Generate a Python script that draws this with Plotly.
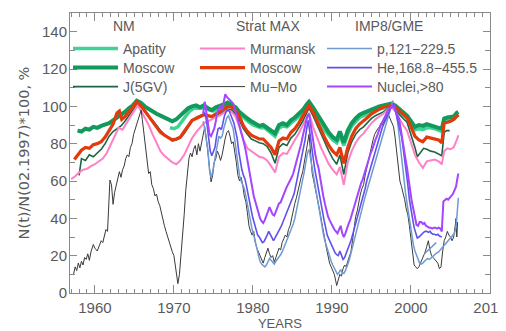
import plotly.graph_objects as go

# ---------------- data (year, value) ----------------
apatity = [(1969.5, 88.5), (1970.0, 88), (1970.5, 89), (1971.0, 92), (1971.5, 95), (1972.0, 97.5), (1972.5, 99),
           (1973.0, 99), (1973.5, 99), (1974.0, 99.5), (1974.5, 98), (1975.0, 97.5), (1975.5, 98.5), (1976.0, 99.5),
           (1976.5, 100.5), (1977.0, 100.5), (1977.5, 99.5), (1978.0, 97), (1978.5, 95), (1979.0, 93), (1979.5, 91.5),
           (1980.0, 90), (1980.5, 89), (1981.0, 88.5), (1981.5, 88.5), (1982.0, 86.5), (1982.5, 85), (1982.8, 84),
           (1983.3, 88.5), (1983.8, 89.5), (1984.3, 89), (1984.8, 91), (1985.3, 92.5), (1985.8, 94.5), (1986.3, 96.5),
           (1986.8, 99.5), (1987.1, 101), (1987.6, 98), (1988.1, 94.5), (1988.6, 90.5), (1989.1, 87), (1989.6, 84.5),
           (1990.1, 82), (1990.6, 80.5), (1991.0, 84.5), (1991.5, 79), (1992.0, 85), (1992.5, 89.5), (1993.0, 92),
           (1993.5, 94), (1994.0, 95), (1994.5, 96), (1995.0, 97), (1995.5, 98), (1996.0, 98.5), (1996.5, 99),
           (1997.0, 99.5), (1997.5, 100), (1998.0, 99), (1998.5, 97), (1999.0, 95), (1999.5, 93.5), (2000.0, 90.5),
           (2000.5, 87.5), (2001.0, 88), (2001.5, 87.5), (2002.0, 88.5), (2002.5, 88.5), (2003.0, 88), (2003.5, 87),
           (2003.9, 86.5), (2004.2, 92), (2004.6, 92.5), (2005.0, 92.5), (2005.4, 93), (2005.8, 95), (2006.0, 95.5)]

moscow_nm = [(1957.8, 87), (1958.3, 86.5), (1958.8, 88), (1959.3, 87.5), (1959.8, 89), (1960.3, 88.5), (1960.8, 89.5),
             (1961.3, 90), (1961.8, 91), (1962.3, 92.5), (1962.8, 94), (1963.3, 95), (1963.8, 97), (1964.3, 99),
             (1964.8, 100.5), (1965.3, 103), (1965.8, 102), (1966.3, 100), (1966.8, 98.5), (1967.3, 97), (1967.8, 96),
             (1968.3, 95), (1968.8, 94), (1969.3, 93), (1969.8, 92), (1970.3, 93), (1970.8, 95), (1971.3, 97),
             (1971.8, 99), (1972.3, 100), (1972.8, 100.5), (1973.3, 99.5), (1973.8, 100.5), (1974.3, 99), (1974.8, 98),
             (1975.3, 99.5), (1975.8, 100), (1976.3, 101), (1976.8, 102), (1977.3, 101), (1977.8, 99.5), (1978.3, 97),
             (1978.8, 95), (1979.3, 93.5), (1979.8, 92), (1980.3, 91), (1980.8, 89.5), (1981.3, 90), (1981.8, 88.5),
             (1982.3, 87), (1982.8, 85.5), (1983.3, 90), (1983.8, 91), (1984.3, 90), (1984.8, 92.5), (1985.3, 94),
             (1985.8, 96), (1986.3, 98), (1986.8, 101), (1987.1, 102.5), (1987.6, 99.5), (1988.1, 96), (1988.6, 92),
             (1989.1, 88.5), (1989.6, 86), (1990.1, 83.5), (1990.6, 82), (1991.0, 86.5), (1991.5, 80.5), (1992.0, 87),
             (1992.5, 91), (1993.0, 93.5), (1993.5, 95.5), (1994.0, 96.5), (1994.5, 97.5), (1995.0, 98.5),
             (1995.5, 99.5), (1996.0, 100), (1996.5, 100.5), (1997.0, 101), (1997.5, 101.5), (1998.0, 100.5),
             (1998.5, 98.5), (1999.0, 96.5), (1999.5, 95), (2000.0, 92), (2000.5, 89), (2001.0, 90), (2001.5, 89.5),
             (2002.0, 90.5), (2002.5, 90), (2003.0, 89.5), (2003.5, 88.5), (2003.9, 88), (2004.2, 93.5), (2004.6, 94),
             (2005.0, 94), (2005.4, 94.5), (2005.8, 96.5), (2006.0, 97)]

j5gv = [(1958.0, 63), (1958.3, 72), (1958.8, 71), (1959.3, 74), (1959.8, 73), (1960.3, 75), (1960.8, 77), (1961.3, 80),
        (1961.8, 84), (1962.3, 86.5), (1962.8, 88), (1963.3, 89.5), (1963.8, 92), (1964.3, 95), (1964.8, 98),
        (1965.3, 101), (1965.8, 100), (1966.3, 97), (1966.8, 94.5), (1967.3, 92.5), (1967.8, 89.5), (1968.3, 87),
        (1968.8, 85), (1969.3, 83), (1969.8, 81.5), (1970.3, 82), (1970.8, 83), (1971.3, 85.5), (1971.8, 88.5),
        (1972.3, 92), (1972.8, 94), (1973.3, 95), (1973.8, 96), (1974.3, 95), (1974.8, 94), (1975.3, 95.5),
        (1975.8, 96), (1976.3, 97), (1976.8, 98.5), (1977.3, 98), (1977.8, 96), (1978.3, 92.5), (1978.8, 88),
        (1979.3, 85), (1979.8, 82.5), (1980.3, 81.5), (1980.8, 80.5), (1981.3, 80), (1981.8, 78.5), (1982.3, 75),
        (1982.8, 69.5), (1983.3, 78), (1983.8, 80), (1984.3, 79), (1984.8, 83), (1985.3, 85), (1985.8, 88.5),
        (1986.3, 92), (1986.8, 96.5), (1987.1, 99), (1987.6, 95), (1988.1, 90), (1988.6, 85), (1989.1, 80),
        (1989.6, 76), (1990.1, 72), (1990.6, 69), (1991.0, 74), (1991.5, 63.5), (1992.0, 75), (1992.5, 81),
        (1993.0, 85), (1993.5, 87.5), (1994.0, 89), (1994.5, 91.5), (1995.0, 93.5), (1995.5, 95), (1996.0, 96),
        (1996.5, 97), (1997.0, 98.5), (1997.5, 99.5), (1998.0, 98), (1998.5, 95.5), (1999.0, 93.5), (1999.5, 91.5),
        (2000.0, 85), (2000.5, 78), (2000.8, 73), (2001.2, 75), (2001.6, 77.5), (2002.0, 77), (2002.5, 76),
        (2003.0, 75.5), (2003.5, 74.5), (2003.9, 73.5), (2004.2, 86), (2004.5, 87), (2004.9, 87)]

murmansk = [(1957.0, 61), (1957.5, 62.5), (1958.0, 64.5), (1958.5, 66), (1959.0, 66.5), (1959.5, 68), (1960.0, 69),
            (1960.5, 70.5), (1961.0, 72), (1961.5, 75), (1962.0, 80), (1962.5, 84), (1963.0, 88.5), (1963.5, 87.5),
            (1964.0, 91), (1964.5, 94.5), (1965.0, 97.5), (1965.4, 100.5), (1965.8, 98), (1966.3, 94), (1966.8, 90),
            (1967.3, 85), (1967.8, 80), (1968.3, 76), (1968.8, 73.5), (1969.3, 71.5), (1969.8, 70), (1970.3, 69),
            (1970.8, 71), (1971.3, 74), (1971.8, 79), (1972.3, 83), (1972.8, 86), (1973.3, 88.5), (1973.8, 91),
            (1974.3, 92), (1974.8, 93), (1975.3, 94.5), (1975.8, 95), (1976.3, 96.5), (1976.8, 98), (1977.3, 97),
            (1977.8, 94.5), (1978.3, 89), (1978.8, 82), (1979.3, 77.5), (1979.8, 76), (1980.3, 74.5), (1980.8, 73),
            (1981.3, 72.5), (1981.8, 71), (1982.3, 68), (1982.8, 64.5), (1983.3, 73), (1983.8, 75), (1984.3, 74.5),
            (1984.8, 78.5), (1985.3, 82), (1985.8, 85.5), (1986.3, 89.5), (1986.8, 94), (1987.1, 96.5), (1987.6, 89),
            (1988.1, 83), (1988.6, 78), (1989.1, 73.5), (1989.6, 69), (1990.1, 66), (1990.6, 63.5), (1991.0, 67.5),
            (1991.5, 58), (1992.0, 70), (1992.5, 76), (1993.0, 80.5), (1993.5, 83.5), (1994.0, 85.5), (1994.5, 88.5),
            (1995.0, 91), (1995.5, 93), (1996.0, 94.5), (1996.5, 96), (1997.0, 98), (1997.5, 99.5), (1998.0, 97.5),
            (1998.5, 93.5), (1999.0, 90), (1999.5, 87), (2000.0, 80), (2000.5, 74), (2001.0, 70), (2001.5, 67),
            (2002.0, 70.5), (2002.5, 71), (2003.0, 71.5), (2003.5, 70.5), (2003.9, 69), (2004.2, 76), (2004.6, 77.5),
            (2005.0, 77), (2005.4, 78), (2005.8, 82), (2006.0, 84.5)]

moscow_strat = [(1957.4, 71.5), (1957.8, 74), (1958.3, 76.5), (1958.8, 78), (1959.3, 77.5), (1959.8, 79.5),
                (1960.3, 80), (1960.8, 81), (1961.3, 83.5), (1961.8, 87), (1962.3, 90.5), (1962.8, 96.5),
                (1963.1, 97.5), (1963.4, 93), (1963.8, 94.5), (1964.3, 97), (1964.8, 99.5), (1965.3, 102.5),
                (1965.8, 100.5), (1966.3, 97.5), (1966.8, 94.5), (1967.3, 91.5), (1967.8, 88.5), (1968.3, 86),
                (1968.8, 84.5), (1969.3, 83), (1969.8, 82), (1970.3, 82.5), (1970.8, 83.5), (1971.3, 86.5),
                (1971.8, 89.5), (1972.3, 92.5), (1972.8, 93.5), (1973.3, 94.5), (1973.8, 95.5), (1974.3, 95),
                (1974.8, 94.5), (1975.3, 96), (1975.8, 97), (1976.3, 98.5), (1976.8, 100), (1977.3, 99.5),
                (1977.8, 98), (1978.3, 94.5), (1978.8, 89.5), (1979.3, 86.5), (1979.8, 84.5), (1980.3, 83.5),
                (1980.8, 82.5), (1981.3, 82.5), (1981.8, 80.5), (1982.3, 78), (1982.8, 74), (1983.3, 81.5),
                (1983.8, 83), (1984.3, 82.5), (1984.8, 86), (1985.3, 88), (1985.8, 91), (1986.3, 94.5), (1986.8, 98.5),
                (1987.1, 100.5), (1987.6, 97), (1988.1, 92), (1988.6, 87.5), (1989.1, 83), (1989.6, 79), (1990.1, 76),
                (1990.6, 74), (1991.0, 78), (1991.5, 69.5), (1992.0, 78), (1992.5, 84), (1993.0, 88), (1993.5, 90.5),
                (1994.0, 92), (1994.5, 94), (1995.0, 96), (1995.5, 97.5), (1996.0, 98.5), (1996.5, 99.5),
                (1997.0, 100), (1997.5, 100.5), (1998.0, 99.5), (1998.5, 97.5), (1999.0, 95.5), (1999.5, 94),
                (2000.0, 89), (2000.5, 84), (2001.0, 82), (2001.5, 81), (2002.0, 83.5), (2002.5, 83), (2003.0, 82.5),
                (2003.5, 82), (2003.9, 80.5), (2004.2, 91), (2004.6, 91.5), (2005.0, 92), (2005.4, 93), (2005.8, 95),
                (2006.0, 95.5)]

mu_mo = [(1957.3, 10), (1957.5, 14), (1957.7, 12), (1957.9, 16), (1958.1, 13.5), (1958.3, 17), (1958.5, 15),
         (1958.7, 19), (1958.9, 18), (1959.1, 21), (1959.3, 17.5), (1959.5, 22), (1959.8, 26), (1960.0, 24),
         (1960.3, 22.5), (1960.5, 25), (1960.8, 28), (1961.0, 27), (1961.2, 31), (1961.4, 34), (1961.6, 33),
         (1961.75, 48), (1961.9, 60.5), (1962.1, 58), (1962.3, 47.5), (1962.5, 54), (1962.7, 58), (1962.9, 60.5),
         (1963.1, 65), (1963.3, 62), (1963.5, 66), (1963.7, 68), (1963.9, 72), (1964.1, 74), (1964.3, 73),
         (1964.5, 78), (1964.7, 80), (1964.9, 85), (1965.1, 88), (1965.3, 90), (1965.5, 94), (1965.7, 97),
         (1965.85, 98), (1966.0, 93), (1966.2, 86), (1966.4, 79), (1966.6, 70), (1966.8, 64), (1967.0, 65),
         (1967.2, 58), (1967.4, 56), (1967.6, 52), (1967.8, 53), (1968.0, 49), (1968.2, 47), (1968.4, 43),
         (1968.6, 39), (1968.8, 36), (1969.0, 33), (1969.2, 30), (1969.4, 27), (1969.6, 24), (1969.8, 22),
         (1970.0, 20), (1970.2, 14), (1970.4, 6), (1970.5, 5), (1970.7, 10), (1970.9, 20), (1971.1, 30),
         (1971.3, 42), (1971.5, 55), (1971.7, 66), (1971.9, 72), (1972.1, 75), (1972.3, 73), (1972.5, 77),
         (1972.7, 79), (1972.9, 74), (1973.1, 80), (1973.3, 76), (1973.5, 81), (1973.7, 86), (1973.9, 89),
         (1974.1, 83), (1974.3, 75), (1974.5, 64), (1974.7, 59.5), (1974.9, 63), (1975.1, 70), (1975.3, 72),
         (1975.5, 76), (1975.7, 74), (1975.9, 71), (1976.1, 74), (1976.3, 79), (1976.5, 83), (1976.7, 86),
         (1976.9, 87), (1977.1, 84), (1977.3, 80), (1977.5, 81), (1977.7, 76), (1977.9, 70), (1978.1, 63),
         (1978.3, 60), (1978.5, 62), (1978.7, 58), (1978.9, 52), (1979.1, 49), (1979.3, 43), (1979.5, 36),
         (1979.7, 33), (1979.9, 31), (1980.1, 33), (1980.3, 27), (1980.5, 24), (1980.7, 22), (1980.9, 19),
         (1981.1, 17), (1981.3, 16), (1981.5, 19), (1981.7, 22), (1981.9, 24), (1982.1, 21), (1982.3, 19),
         (1982.5, 20), (1982.7, 16.5), (1982.9, 19), (1983.1, 22), (1983.3, 24), (1983.5, 23), (1983.7, 27),
         (1983.9, 29), (1984.1, 31), (1984.3, 30), (1984.5, 34), (1984.7, 36), (1984.9, 40), (1985.1, 45),
         (1985.3, 48), (1985.5, 51), (1985.7, 55), (1985.9, 58), (1986.1, 62), (1986.3, 65), (1986.5, 70),
         (1986.7, 76), (1986.9, 82), (1987.1, 85), (1987.3, 75), (1987.5, 64), (1987.7, 60), (1987.9, 56),
         (1988.1, 52), (1988.3, 47), (1988.5, 43), (1988.7, 38), (1988.9, 34), (1989.1, 29), (1989.3, 24),
         (1989.5, 19), (1989.7, 16), (1989.9, 14), (1990.1, 12), (1990.3, 10), (1990.5, 6), (1990.6, 4),
         (1990.8, 7), (1991.0, 10), (1991.2, 9), (1991.4, 13), (1991.6, 15), (1991.8, 14), (1992.0, 17),
         (1992.2, 20), (1992.4, 22), (1992.6, 28), (1992.8, 35), (1993.0, 41), (1993.2, 44), (1993.4, 49),
         (1993.6, 53), (1993.8, 56), (1994.0, 58), (1994.2, 63), (1994.4, 67), (1994.6, 71), (1994.8, 75),
         (1995.0, 78), (1995.2, 82), (1995.4, 85), (1995.6, 87), (1995.8, 88), (1996.0, 89), (1996.2, 91),
         (1996.4, 90), (1996.6, 92), (1996.8, 94), (1997.0, 96), (1997.2, 95), (1997.4, 93), (1997.6, 91),
         (1997.8, 89), (1998.0, 83), (1998.2, 76), (1998.4, 68), (1998.6, 60), (1998.8, 57), (1999.0, 54),
         (1999.2, 50), (1999.4, 45), (1999.6, 42), (1999.8, 36), (2000.0, 29), (2000.2, 20), (2000.4, 15),
         (2000.6, 14), (2000.8, 13), (2001.0, 14), (2001.2, 16), (2001.4, 17), (2001.6, 19), (2001.8, 22),
         (2002.0, 25), (2002.2, 28), (2002.4, 23), (2002.6, 20), (2002.8, 19), (2003.0, 18), (2003.2, 17),
         (2003.4, 16), (2003.6, 13), (2003.8, 14), (2004.0, 22), (2004.2, 28), (2004.4, 30), (2004.6, 33),
         (2004.8, 31), (2005.0, 30), (2005.2, 28), (2005.4, 30), (2005.6, 36), (2005.7, 40), (2005.8, 30),
         (2005.9, 38)]

protons = [(1973.7, 92), (1973.9, 88), (1974.1, 82), (1974.3, 77), (1974.5, 66), (1974.7, 62), (1974.9, 65),
           (1975.1, 70), (1975.3, 75), (1975.5, 81), (1975.7, 84), (1975.9, 83), (1976.1, 84), (1976.3, 88),
           (1976.5, 91), (1976.7, 94), (1976.9, 95), (1977.1, 93), (1977.3, 90), (1977.5, 88), (1977.7, 82),
           (1977.9, 76), (1978.1, 69), (1978.3, 63), (1978.5, 60), (1978.7, 58), (1978.9, 56), (1979.1, 52),
           (1979.3, 47), (1979.5, 42), (1979.7, 38), (1979.9, 34), (1980.1, 31), (1980.3, 28), (1980.5, 24),
           (1980.7, 20), (1980.9, 17), (1981.1, 15.5), (1981.3, 14.5), (1981.5, 14), (1981.7, 15), (1981.9, 17),
           (1982.1, 18.5), (1982.3, 17.5), (1982.5, 16.5), (1982.7, 15.5), (1982.9, 17), (1983.1, 18), (1983.3, 19),
           (1983.5, 20.5), (1983.7, 22), (1983.9, 24), (1984.1, 26), (1984.3, 28), (1984.5, 30), (1984.7, 32),
           (1984.9, 34.5), (1985.1, 37), (1985.3, 40), (1985.5, 44), (1985.7, 48), (1985.9, 53), (1986.1, 57),
           (1986.3, 61), (1986.5, 65), (1986.7, 70), (1986.9, 75), (1987.1, 77), (1987.3, 72), (1987.5, 66),
           (1987.7, 60), (1987.9, 55), (1988.1, 50), (1988.3, 46), (1988.5, 41), (1988.7, 36), (1988.9, 32),
           (1989.1, 28), (1989.3, 25), (1989.5, 22), (1989.7, 19.5), (1989.9, 17), (1990.1, 15), (1990.3, 13),
           (1990.5, 11.5), (1990.7, 10), (1990.9, 11), (1991.1, 12.5), (1991.3, 11), (1991.5, 10.5), (1991.7, 12),
           (1991.9, 14), (1992.1, 16.5), (1992.3, 19.5), (1992.5, 23), (1992.7, 26.5), (1992.9, 30), (1993.1, 34),
           (1993.3, 37), (1993.5, 40), (1993.7, 43), (1993.9, 46.5), (1994.1, 50), (1994.3, 53), (1994.5, 56),
           (1994.7, 59), (1994.9, 62), (1995.1, 65), (1995.3, 68), (1995.5, 71), (1995.7, 73), (1995.9, 76),
           (1996.1, 79), (1996.3, 82), (1996.5, 85), (1996.7, 88), (1996.9, 91), (1997.1, 95), (1997.3, 98),
           (1997.5, 101), (1997.7, 103), (1997.9, 100), (1998.1, 97), (1998.3, 92), (1998.5, 84), (1998.7, 76),
           (1998.9, 68), (1999.1, 61), (1999.3, 54), (1999.5, 48), (1999.7, 42), (1999.9, 36), (2000.1, 31),
           (2000.3, 26), (2000.5, 22.5), (2000.7, 20.5), (2000.9, 18), (2001.1, 16), (2001.3, 15.5), (2001.5, 16),
           (2001.7, 17), (2001.9, 18), (2002.1, 18.5), (2002.3, 18), (2002.5, 18.5), (2002.7, 19.5), (2002.9, 20),
           (2003.1, 21), (2003.3, 21.5), (2003.5, 22), (2003.7, 23), (2003.9, 24), (2004.1, 25), (2004.3, 25.5),
           (2004.5, 26.5), (2004.7, 27.5), (2004.9, 28.5), (2005.1, 30), (2005.3, 31), (2005.5, 32), (2005.7, 35),
           (2005.9, 46), (2006.0, 51)]

protons_extra = [(2001.7, 21), (2002.1, 22.5), (2002.5, 24), (2002.9, 25.5), (2003.2, 27)]

helium = [(1973.8, 97), (1974.0, 95), (1974.2, 90), (1974.4, 82), (1974.6, 76), (1974.8, 73.5), (1975.0, 76),
          (1975.2, 78), (1975.4, 84), (1975.6, 88), (1975.8, 88.5), (1976.0, 87.5), (1976.2, 91), (1976.4, 95),
          (1976.6, 97), (1976.8, 98), (1977.0, 97.5), (1977.2, 95.5), (1977.4, 94), (1977.6, 91), (1977.8, 87),
          (1978.0, 83), (1978.2, 76), (1978.4, 70), (1978.6, 66), (1978.8, 63), (1979.0, 61), (1979.2, 57),
          (1979.4, 52), (1979.6, 48), (1979.8, 44), (1980.0, 40), (1980.2, 37), (1980.4, 33), (1980.6, 31),
          (1980.8, 30), (1981.0, 28.5), (1981.2, 27), (1981.4, 27.5), (1981.6, 29), (1981.8, 31), (1982.0, 33),
          (1982.2, 31), (1982.4, 29.5), (1982.6, 28), (1982.8, 29.5), (1983.0, 31), (1983.2, 32.5), (1983.4, 34),
          (1983.6, 36), (1983.8, 38), (1984.0, 40), (1984.2, 42), (1984.4, 44), (1984.6, 46), (1984.8, 48),
          (1985.0, 50), (1985.2, 53), (1985.4, 57), (1985.6, 61), (1985.8, 65), (1986.0, 69), (1986.2, 73),
          (1986.4, 78), (1986.6, 82), (1986.8, 88), (1987.0, 92.5), (1987.2, 86), (1987.4, 78), (1987.6, 73),
          (1987.8, 67), (1988.0, 62), (1988.2, 58), (1988.4, 54), (1988.6, 48), (1988.8, 43), (1989.0, 39),
          (1989.2, 35), (1989.4, 31), (1989.6, 29), (1989.8, 27), (1990.0, 25), (1990.2, 23), (1990.4, 21.5),
          (1990.6, 20.5), (1990.8, 20), (1991.0, 22.5), (1991.2, 20), (1991.4, 18), (1991.6, 19), (1991.8, 21),
          (1992.0, 23), (1992.2, 26), (1992.4, 28), (1992.6, 31), (1992.8, 34), (1993.0, 37), (1993.2, 40),
          (1993.4, 44), (1993.6, 47), (1993.8, 50), (1994.0, 53), (1994.2, 56), (1994.4, 60), (1994.6, 63),
          (1994.8, 66), (1995.0, 69), (1995.2, 72), (1995.4, 75), (1995.6, 78), (1995.8, 80), (1996.0, 83),
          (1996.2, 86), (1996.4, 89), (1996.6, 91), (1996.8, 93), (1997.0, 95.5), (1997.2, 97.5), (1997.4, 99),
          (1997.6, 100.5), (1997.8, 101.5), (1998.0, 98), (1998.2, 95), (1998.4, 92), (1998.6, 89), (1998.8, 84),
          (1999.0, 78), (1999.2, 72), (1999.4, 65), (1999.6, 58), (1999.8, 50), (2000.0, 44), (2000.2, 40),
          (2000.4, 35), (2000.6, 32), (2000.8, 29.5), (2001.0, 30), (2001.2, 31), (2001.4, 32), (2001.6, 32.5),
          (2001.8, 33), (2002.0, 33), (2002.2, 32.5), (2002.4, 33), (2002.6, 32), (2002.8, 31.5), (2003.0, 31.5),
          (2003.2, 31), (2003.4, 31.5), (2003.6, 30.5), (2003.9, 30)]

nuclei = [(1973.7, 96), (1973.9, 102.5), (1974.1, 97), (1974.3, 91), (1974.5, 85), (1974.7, 84), (1974.9, 86),
          (1975.1, 88), (1975.3, 92), (1975.5, 97), (1975.7, 99), (1975.9, 100), (1976.1, 98), (1976.3, 103),
          (1976.5, 106.5), (1976.7, 105), (1976.9, 104), (1977.1, 103), (1977.3, 102), (1977.5, 101.5), (1977.7, 99),
          (1977.9, 96), (1978.1, 92), (1978.3, 89), (1978.5, 86), (1978.7, 83), (1978.9, 80), (1979.1, 76),
          (1979.3, 71), (1979.5, 66), (1979.7, 61), (1979.9, 56), (1980.1, 52), (1980.3, 49), (1980.5, 46),
          (1980.7, 43), (1980.9, 40), (1981.1, 38.5), (1981.3, 37.5), (1981.5, 39), (1981.7, 41), (1981.9, 44),
          (1982.1, 46), (1982.3, 44), (1982.5, 42), (1982.7, 41.5), (1982.9, 44), (1983.1, 46.5), (1983.3, 48),
          (1983.5, 48.5), (1983.7, 51), (1983.9, 53), (1984.1, 55), (1984.3, 57), (1984.5, 58.5), (1984.7, 60),
          (1984.9, 62), (1985.1, 64), (1985.3, 67), (1985.5, 70), (1985.7, 74), (1985.9, 77), (1986.1, 80),
          (1986.3, 84), (1986.5, 88), (1986.7, 91), (1986.9, 95), (1987.1, 96), (1987.3, 90), (1987.5, 84),
          (1987.7, 79), (1987.9, 74), (1988.1, 70), (1988.3, 67), (1988.5, 62), (1988.7, 56), (1988.9, 52),
          (1989.1, 48), (1989.3, 44), (1989.5, 41), (1989.7, 39), (1989.9, 37), (1990.1, 35), (1990.3, 34),
          (1990.5, 33), (1990.7, 32), (1990.9, 34), (1991.1, 36), (1991.3, 32), (1991.5, 30), (1991.7, 32),
          (1991.9, 35), (1992.1, 37), (1992.3, 39), (1992.5, 42), (1992.7, 45), (1992.9, 48), (1993.1, 50),
          (1993.3, 53), (1993.5, 56), (1993.7, 59), (1993.9, 61), (1994.1, 64), (1994.3, 67), (1994.5, 70),
          (1994.7, 72), (1994.9, 75), (1995.1, 77), (1995.3, 80), (1995.5, 82), (1995.7, 84), (1995.9, 87),
          (1996.1, 89), (1996.3, 91), (1996.5, 92.5), (1996.7, 94), (1996.9, 96), (1997.1, 98), (1997.3, 99),
          (1997.5, 100), (1997.7, 100.5), (1997.9, 99), (1998.1, 97), (1998.3, 95), (1998.5, 93), (1998.7, 88),
          (1998.9, 82), (1999.1, 77), (1999.3, 72), (1999.5, 67), (1999.7, 61), (1999.9, 54), (2000.1, 49),
          (2000.3, 45), (2000.5, 40), (2000.7, 36.5), (2000.9, 36), (2001.1, 38), (2001.3, 38), (2001.5, 37),
          (2001.7, 37.5), (2001.9, 36), (2002.1, 35.5), (2002.3, 35), (2002.5, 35), (2002.7, 34.5), (2002.9, 35),
          (2003.1, 35), (2003.3, 34.5), (2003.5, 35), (2003.7, 34.5), (2003.9, 33), (2004.1, 49), (2004.3, 50),
          (2004.5, 50.5), (2004.7, 50), (2004.9, 51), (2005.1, 52), (2005.3, 53), (2005.5, 55), (2005.7, 57),
          (2005.9, 62), (2006.0, 64)]

x_ticks = [1960, 1970, 1980, 1990, 2000, 2010]
y_ticks = [0, 20, 40, 60, 80, 100, 120, 140]

# ------------------------------------------------------------------------------
FONT = "Liberation Sans"
TXT = "#5a5a5a"
AX = "#8a8a8a"

series = [
    # name, data, color, width, legend id
    ("Apatity", apatity, "#3fd496", 3.5, "legend"),
    ("Moscow", moscow_nm, "#129a5c", 4.0, "legend2"),
    ("J(5GV)", j5gv, "#1d6444", 1.6, "legend3"),
    ("Murmansk", murmansk, "#ff80c4", 2.0, "legend4"),
    ("Moscow", moscow_strat, "#e23a0a", 3.2, "legend5"),
    ("Mu\u2212Mo", mu_mo, "#3a3a3a", 1.0, "legend6"),
    ("p,121\u2212229.5", protons, "#6f9ad2", 1.5, "legend7"),
    ("He,168.8\u2212455.5", helium, "#6150ee", 1.6, "legend8"),
    ("Nuclei,>80", nuclei, "#a346ff", 2.0, "legend9"),
]

fig = go.Figure()
for name, data, color, width, lg in series:
    xs = [d[0] for d in data]
    ys = [d[1] for d in data]
    fig.add_trace(go.Scatter(x=xs, y=ys, mode="lines", name=name, legend=lg,
                             line=dict(color=color, width=width)))
    if name.startswith("p,"):
        fig.add_trace(go.Scatter(x=[d[0] for d in protons_extra], y=[d[1] for d in protons_extra],
                                 mode="lines", showlegend=False,
                                 line=dict(color=color, width=width)))

# target plot area in window pixels: left 70, right 490, top 13, bottom 293
# (the page body adds an 8 px offset, so figure margins are reduced by 8)
OFF = 8
L, R, T, B = 70, 490, 13, 293
W, H = R - L, B - T


def px(xp):
    return (xp - L) / W


def py(yp):
    return (B - yp) / H


col_x = [68, 195, 322]
row_y = [49, 68, 87]
legend_ids = ["legend", "legend2", "legend3", "legend4", "legend5", "legend6", "legend7", "legend8", "legend9"]
legend_layout = {}
for i, lid in enumerate(legend_ids):
    c, r = divmod(i, 3)
    legend_layout[lid] = dict(x=px(col_x[c]), y=py(row_y[r]), xanchor="left", yanchor="middle",
                              bgcolor="rgba(0,0,0,0)", borderwidth=0,
                              font=dict(family=FONT, size=14, color=TXT),
                              itemwidth=45, tracegroupgap=0)

headers = [("NM", 124), ("Strat MAX", 268), ("IMP8/GME", 389)]
annotations = [dict(text=t, x=px(hx), y=py(26), xref="paper", yref="paper", showarrow=False,
                    xanchor="center", yanchor="middle", font=dict(family=FONT, size=14, color=TXT))
               for t, hx in headers]

FW, FH = 506, 331
fig.update_layout(
    width=FW, height=FH,
    margin=dict(l=L - OFF, r=FW - (R - OFF), t=T - OFF, b=FH - (B - OFF), autoexpand=False),
    paper_bgcolor="white", plot_bgcolor="white",
    font=dict(family=FONT, size=15, color=TXT),
    showlegend=True,
    annotations=annotations,
    **legend_layout,
)

fig.update_xaxes(
    range=[1956.85, 2010], tickmode="array", tickvals=x_ticks,
    ticks="inside", ticklen=8, tickwidth=1, tickcolor=AX,
    minor=dict(dtick=1, tick0=1960, ticks="inside", ticklen=4, tickcolor=AX, showgrid=False),
    showline=True, linecolor=AX, linewidth=1, mirror="ticks", showgrid=False, zeroline=False,
    tickfont=dict(family=FONT, size=15, color=TXT), ticklabelstandoff=1, ticklabeloverflow="allow",
    automargin=False,
    title=dict(text="YEARS", font=dict(family=FONT, size=13, color=TXT), standoff=2),
)
fig.update_yaxes(
    range=[0, 150], tickmode="array", tickvals=y_ticks,
    ticks="inside", ticklen=7, tickwidth=1, tickcolor=AX,
    minor=dict(dtick=10, tick0=0, ticks="inside", ticklen=5, tickcolor=AX, showgrid=False),
    showline=True, linecolor=AX, linewidth=1, mirror="ticks", showgrid=False, zeroline=False,
    tickfont=dict(family=FONT, size=15, color=TXT), ticklabelstandoff=-1, automargin=False,
    title=dict(text="N(t)/N(02.1997)*100, %", font=dict(family="DejaVu Sans", size=14.5, color=TXT), standoff=8),
)

fig.write_html("out.html")
